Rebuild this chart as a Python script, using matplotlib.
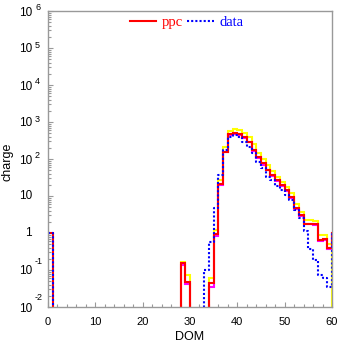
import numpy as np
import matplotlib
matplotlib.use('Agg')
import matplotlib.pyplot as plt
from matplotlib.ticker import MultipleLocator, LogLocator, NullFormatter
from matplotlib.transforms import offset_copy

# histogram contents, one value per DOM bin (DOM 0 .. 60)
dom_edges = np.arange(0, 62)

ppc = ([1.0] + [0] * 27 +
       [0.15, 0.048, 0, 0, 0, 0, 0.045, 0.92, 21, 158,
        470, 490, 470, 400, 295, 174, 112, 76, 52, 37,
        27, 20, 14.5, 9.5, 4.7, 3.1, 1.8, 1.8, 1.7, 0.64,
        0.68, 0.39, 1.0])

ppc_hi = ([0] * 28 +
          [0.167, 0.073, 0, 0, 0, 0, 0.062, 1.2, 27, 214,
           580, 630, 610, 510, 390, 250, 148, 98, 69, 46,
           33, 24.5, 17, 11.7, 6.0, 3.8, 2.2, 2.2, 2.1, 0.88,
           0.88, 0.5, 0])

ppc_lo = ([0] * 28 +
          [0.14, 0.042, 0, 0, 0, 0, 0.035, 0.85, 20, 150,
           450, 470, 450, 380, 280, 165, 105, 71, 49, 35,
           25.5, 19, 13.7, 9.0, 4.4, 2.9, 1.7, 1.7, 1.6, 0.6,
           0.64, 0.37, 1.0])

data = ([1.0] + [0] * 32 +
        [0.1, 0.58, 4.7, 37, 175, 400, 450, 390, 295, 215,
         141, 85, 56, 33, 27, 19, 14.5, 10.7, 7.8, 4.2,
         2.6, 1.1, 0.38, 0.19, 0.075, 0.06, 0.035, 1.0])

xticks = [0, 10, 20, 30, 40, 50, 60]
ytick_vals = [1e-2, 1e-1, 1, 10, 1e2, 1e3, 1e4, 1e5, 1e6]
ytick_base = ['10', '10', '1', '10', '10', '10', '10', '10', '10']
ytick_exp = ['-2', '-1', '', '', '2', '3', '4', '5', '6']

fig = plt.figure(figsize=(3.37, 3.44), dpi=100)
ax = fig.add_axes([48 / 337, 37 / 344, 284 / 337, 296 / 344])
ax.set_yscale('log', nonpositive='clip')

def steps(vals, **kw):
    v = np.asarray(vals, dtype=float)
    return ax.step(dom_edges, np.append(v, v[-1]), where='post',
                   solid_joinstyle='miter', **kw)

steps(ppc_hi, color='#ffff00', lw=1.5)
steps(ppc_lo, color='#ff00ff', lw=1.5)
l_ppc, = steps(ppc, color='#ff0000', lw=1.5)
l_data, = steps(data, color='#0000ff', lw=1.5, linestyle=(0, (1, 1)))

ax.set_xlim(0, 60)
ax.set_ylim(1e-2, 1e6)

gray = '#999999'
for s in ax.spines.values():
    s.set_color(gray)
    s.set_linewidth(1.0)

ax.set_xticks(xticks)
ax.xaxis.set_minor_locator(MultipleLocator(2))
ax.yaxis.set_major_locator(LogLocator(base=10, numticks=20))
ax.yaxis.set_minor_locator(LogLocator(base=10, subs=np.arange(2, 10), numticks=20))
ax.yaxis.set_major_formatter(NullFormatter())
ax.yaxis.set_minor_formatter(NullFormatter())
ax.tick_params(which='both', direction='in', color=gray, top=False, right=False)
ax.tick_params(which='major', length=3.5, width=0.8)
ax.tick_params(which='minor', length=2, width=0.8)
ax.tick_params(axis='x', labelsize=8, pad=7)
for lab in ax.get_xticklabels():
    lab.set_fontfamily('Liberation Sans')

# y tick labels, ROOT style: base right aligned, exponent hanging
ytr = ax.get_yaxis_transform()
for v, b, e in zip(ytick_vals, ytick_base, ytick_exp):
    if e:
        tb = offset_copy(ytr, fig=fig, x=0, y=-1.5, units='dots')
        up = 9 if e.startswith('-') else 3
        te = offset_copy(ytr, fig=fig, x=0, y=up, units='dots')
        ax.text(-16 / 284, v, b, transform=tb, ha='right', va='center',
                fontsize=8.5, family='Liberation Sans', clip_on=False)
        ax.text(-13 / 284, v, e, transform=te, ha='left', va='center',
                fontsize=6.5, family='Liberation Sans', clip_on=False)
    else:
        ax.text(-16 / 284, v, b, transform=ytr, ha='right', va='center',
                fontsize=8.5, family='Liberation Sans', clip_on=False)

ax.set_xlabel('DOM', fontsize=9, family='Liberation Sans')
ax.xaxis.set_label_coords(0.5, -0.082)
ax.set_ylabel('charge', fontsize=9, family='Liberation Sans')
ax.yaxis.set_label_coords(-0.123, 0.49)

leg = ax.legend([l_ppc, l_data], ['ppc', 'data'], loc='center',
                bbox_to_anchor=(0.488, 1 - 11 / 296), ncol=2, frameon=False,
                prop={'family': 'Liberation Serif', 'size': 10.5},
                handlelength=1.8, handletextpad=0.4, columnspacing=0.3,
                borderpad=0, borderaxespad=0)
for t, c in zip(leg.get_texts(), ['#ff0000', '#0000ff']):
    t.set_color(c)

fig.savefig('out.png', dpi=100)
